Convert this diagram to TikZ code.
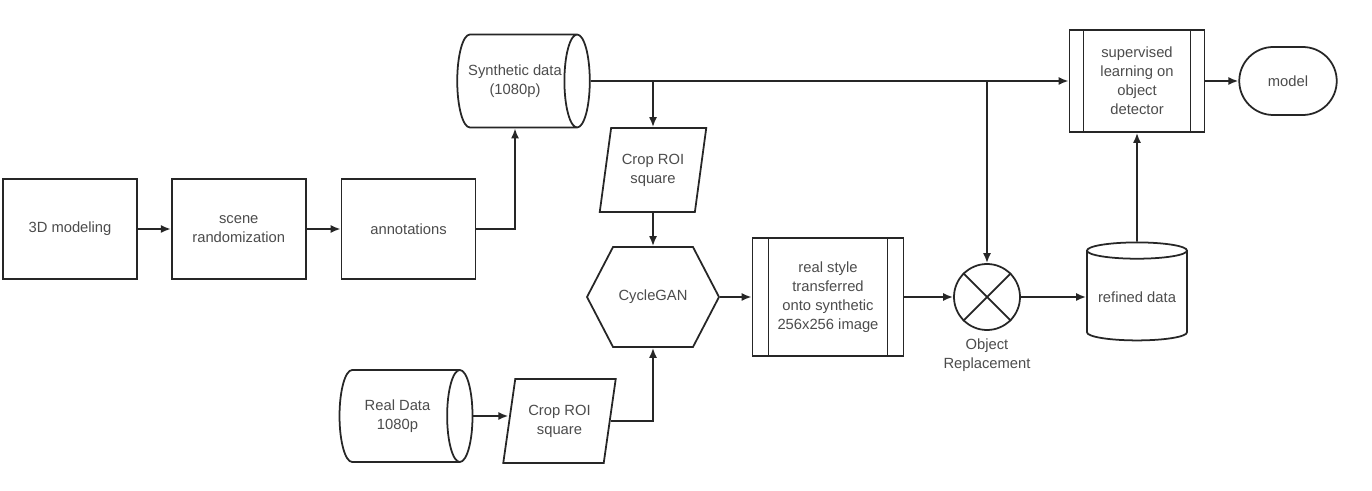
\documentclass[tikz,border=0pt]{standalone}
\usepackage{fontspec}
\setmainfont{Liberation Sans}
\usetikzlibrary{shapes.geometric, shapes.misc, shapes.symbols, arrows.meta, positioning, calc}

\begin{document}
\begin{tikzpicture}[
        base/.style={
            draw=black!85, line width=1pt, align=center, text=black!70,
            font=\fontsize{8.4}{10.8}\selectfont, inner sep=1pt
        },
        stepbox/.style={base, rectangle, minimum width=2.68cm, minimum height=2cm},
        proc/.style={base, rectangle, path picture={
            \draw[black!85, line width=1pt]
                ([xshift=#1]path picture bounding box.north west) -- ([xshift=#1]path picture bounding box.south west)
                ([xshift=-#1]path picture bounding box.north east) -- ([xshift=-#1]path picture bounding box.south east);
        }},
        store/.style={base, cylinder, shape aspect=0.7},
        crop/.style={base, trapezium, trapezium left angle=76, trapezium right angle=104,
            trapezium stretches=true, minimum height=1.68cm},
        gan/.style={base, signal, signal to=west and east, signal pointer angle=125,
            minimum width=2.64cm, minimum height=2cm},
        term/.style={base, rounded rectangle, minimum width=2.02cm, minimum height=1.36cm},
        arrow/.style={draw=black!85, line width=1pt, -{Latex[length=2mm,width=1.6mm]}}
    ]

        \fill[white] (0,0) rectangle (27.44,-9.82);
        \useasboundingbox (0,0) rectangle (27.44,-9.82);

        % Linha superior: dados sinteticos
        \node[stepbox] (model3d) at (1.40,-4.58) {3D modeling};
        \node[stepbox, right=0.66cm of model3d] (scene) {scene\\randomization};
        \node[stepbox, right=0.68cm of scene] (annot) {annotations};

        \node[store, minimum width=1.86cm, minimum height=2.64cm] (synth) at (10.30,-1.62) {Synthetic data\\(1080p)};

        \node[crop, minimum width=2.14cm] (cropA) at (13.06,-3.40) {Crop ROI\\square};
        \node[gan] (cycle) at (13.06,-5.94) {CycleGAN};
        \node[proc=0.32cm, minimum width=3.02cm, minimum height=2.36cm] (styled) at (16.56,-5.94)
            {real style\\transferred\\onto synthetic\\256x256 image};

        \node[base, circle, minimum size=1.32cm] (objrep) at (19.74,-5.94) {};
        \draw[black!85, line width=1pt] (objrep.45) -- (objrep.225) (objrep.135) -- (objrep.-45);
        \node[base, draw=none, below=0.1cm of objrep] (objlabel) {Object\\Replacement};

        \node[store, shape border rotate=90, shape aspect=0.2, minimum width=2cm, minimum height=1.96cm] (refined) at (22.74,-5.94) {refined data};

        \node[proc=0.28cm, minimum width=2.70cm, minimum height=2.04cm] (sup) at (22.74,-1.62)
            {supervised\\learning on\\object\\detector};
        \node[term] (model) at (25.76,-1.62) {model};

        % Linha inferior: dados reais
        \node[store, minimum width=1.84cm, minimum height=2.66cm] (real) at (7.95,-8.32) {Real Data\\1080p};
        \node[crop, minimum width=2.26cm] (cropB) at (11.19,-8.42) {Crop ROI\\square};

        % Setas
        \draw[arrow] (model3d) -- (scene);
        \draw[arrow] (scene) -- (annot);
        \draw[arrow] (annot.east) -| (synth.south);
        \draw[arrow] (synth.east) -- (sup.west);
        \draw[arrow] (cropA.north |- synth.east) -- (cropA.north);
        \draw[arrow] (objrep.north |- synth.east) -- (objrep.north);
        \draw[arrow] (cropA) -- (cycle);
        \draw[arrow] (cycle) -- (styled);
        \draw[arrow] (styled) -- (objrep);
        \draw[arrow] (objrep) -- (refined.west);
        \draw[arrow] (refined.north) -- (sup.south);
        \draw[arrow] (sup) -- (model);
        \draw[arrow] (real.east) -- (real.east -| cropB.west);
        \draw[arrow] (cropB.east) -| (cycle.south);

    \end{tikzpicture}
\end{document}
